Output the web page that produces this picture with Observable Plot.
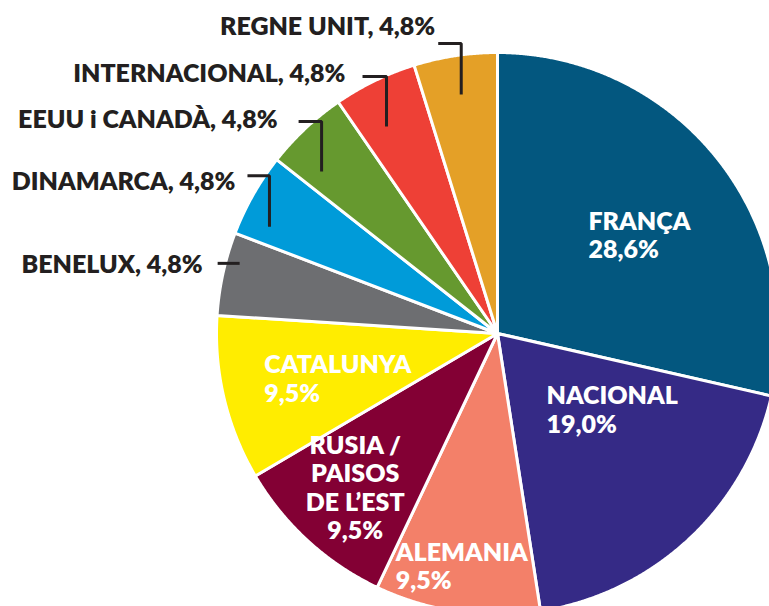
<!DOCTYPE html>
<html><head><meta charset="utf-8">
<script src="https://cdn.jsdelivr.net/npm/d3@7"></script>
<script src="https://cdn.jsdelivr.net/npm/@observablehq/plot@0.6"></script>
<style>body{margin:0;background:#fff}</style>
</head><body><div id="chart"></div>
<script>
// ---- data ----
const categories = ["FRANÇA","NACIONAL","ALEMANIA","RUSIA / PAISOS DE L’EST","CATALUNYA","BENELUX","DINAMARCA","EEUU i CANADÀ","INTERNACIONAL","REGNE UNIT"];
const labelNames = ["FRANÇA","NACIONAL","ALEMANIA","RUSIA /\nPAISOS\nDE L’EST","CATALUNYA","BENELUX","DINAMARCA","EEUU i CANADÀ","INTERNACIONAL","REGNE UNIT"];
const shares = [28.6,19.0,9.5,9.5,9.5,4.8,4.8,4.8,4.8,4.8];
const shareLabels = ["28,6%","19,0%","9,5%","9,5%","9,5%","4,8%","4,8%","4,8%","4,8%","4,8%"];
const colors = ["#03577f","#352a86","#f38069","#830034","#ffed00","#6d6e71","#009bd9","#66992f","#ee4036","#e4a027"];

// ---- layout ----
const W = 769, H = 606, CX = 497, CY = 333, R = 281;
const FONT = "Lato, 'Open Sans', sans-serif";
const FS = 25;
const WEIGHT = 800;
const LH = 1.14;
const INK = "#231f20";
// inside labels: angle offset from slice middle (deg), radius fraction, anchor
const insideLayout = {
  "FRANÇA": {da: -8.7, r: 0.477, anchor: "start"},
  "NACIONAL": {da: 10.2, r: 0.322, anchor: "start"},
  "ALEMANIA": {da: 15.4, r: 0.902, anchor: "start"},
  "RUSIA / PAISOS DE L’EST": {da: 0.3, r: 0.746, anchor: "middle"},
  "CATALUNYA": {da: 2.5, r: 0.845, anchor: "start"}
};
// outside labels: leader start (polar), rise & run (px), text gap & vertical shift (px)
const outsideLayout = {
  "BENELUX": {da: 2.9, r: 0.951, rise: 0, run: 22, gap: 15, tdy: 1.25},
  "DINAMARCA": {da: -4.5, r: 0.896, rise: 51, run: 22, gap: 12, tdy: 6.25},
  "EEUU i CANADÀ": {da: -4.2, r: 0.851, rise: 50, run: 23, gap: 21, tdy: -1.75},
  "INTERNACIONAL": {da: -2.3, r: 0.836, rise: 50, run: 24, gap: 17, tdy: -2.75},
  "REGNE UNIT": {da: 0, r: 0.86, rise: 51, run: 23, gap: 3, tdy: -16.75}
};

const rows = categories.map((name, i) => ({name, label: labelNames[i], share: shares[i], pct: shareLabels[i]}));
const arcs = d3.pie().sort(null).value(d => d.share)(rows);
const polar = (a, r) => ({x: r * Math.sin(a), y: r * Math.cos(a)});
const rad = deg => deg * Math.PI / 180;

// slice polygons
const slicePts = [];
for (const a of arcs) {
  const name = a.data.name;
  slicePts.push({name, x: 0, y: 0});
  const n = Math.max(2, Math.ceil((a.endAngle - a.startAngle) / 0.004));
  for (let k = 0; k <= n; k++) {
    const t = a.startAngle + (a.endAngle - a.startAngle) * k / n;
    slicePts.push({name, ...polar(t, 1)});
  }
}

const mid = a => (a.startAngle + a.endAngle) / 2;

const insideLabels = arcs.filter(a => insideLayout[a.data.name]).map(a => {
  const L = insideLayout[a.data.name];
  const p = polar(mid(a) + rad(L.da), L.r);
  return {...p, anchor: L.anchor, text: a.data.label + "\n" + a.data.pct};
});

const leaderPts = [], outsideLabels = [];
for (const a of arcs) {
  const L = outsideLayout[a.data.name];
  if (!L) continue;
  const p0 = polar(mid(a) + rad(L.da), L.r);
  const p1 = {x: p0.x, y: p0.y + L.rise / R};
  const p2 = {x: p1.x - L.run / R, y: p1.y};
  const name = a.data.name;
  leaderPts.push({name, ...p0}, {name, ...p1}, {name, ...p2});
  outsideLabels.push({x: p2.x - L.gap / R, y: p2.y - L.tdy / R, text: a.data.label + ", " + a.data.pct});
}

const chart = Plot.plot({
  width: W, height: H, margin: 0,
  x: {domain: [-CX / R, (W - CX) / R], axis: null},
  y: {domain: [-(H - CY) / R, CY / R], axis: null},
  color: {domain: categories, range: colors},
  style: {fontFamily: FONT, overflow: "hidden", background: "white"},
  marks: [
    Plot.line(slicePts, {x: "x", y: "y", z: "name", fill: "name", stroke: "white", strokeWidth: 3, strokeLinejoin: "round", curve: "linear-closed", clip: true}),
    Plot.line(leaderPts, {x: "x", y: "y", z: "name", stroke: INK, strokeWidth: 3, strokeLinejoin: "miter", strokeLinecap: "butt"}),
    Plot.text(insideLabels.filter(d => d.anchor === "start"), {x: "x", y: "y", text: "text", textAnchor: "start", fill: "white", fontSize: FS, fontWeight: WEIGHT, lineHeight: LH}),
    Plot.text(insideLabels.filter(d => d.anchor === "middle"), {x: "x", y: "y", text: "text", textAnchor: "middle", fill: "white", fontSize: FS, fontWeight: WEIGHT, lineHeight: LH}),
    Plot.text(outsideLabels, {x: "x", y: "y", text: "text", textAnchor: "end", fill: INK, fontSize: FS, fontWeight: WEIGHT})
  ]
});
document.getElementById("chart").append(chart);
</script>
</body></html>
